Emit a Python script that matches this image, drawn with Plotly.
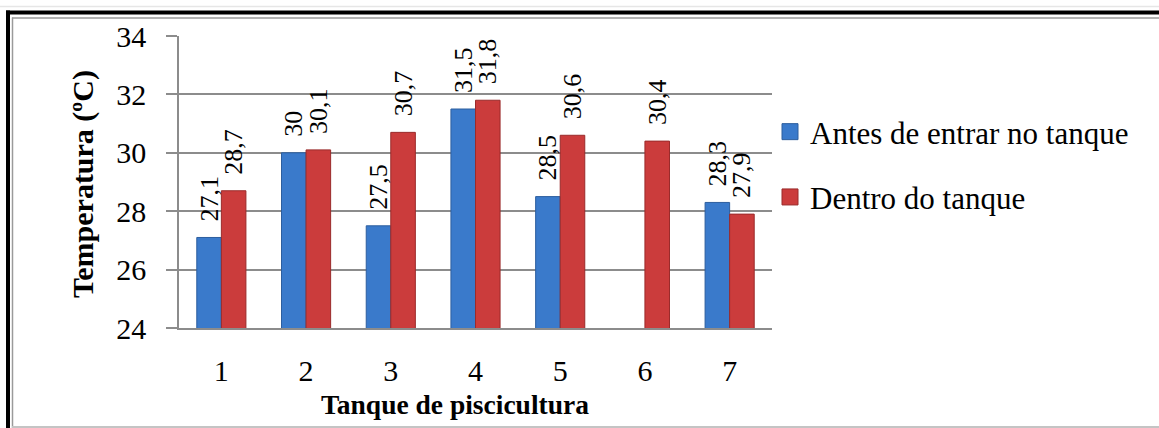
import plotly.graph_objects as go

# Water temperature per fish-farming tank
tanques = ["1", "2", "3", "4", "5", "6", "7"]
antes = [27.1, 30.0, 27.5, 31.5, 28.5, None, 28.3]
dentro = [28.7, 30.1, 30.7, 31.8, 30.6, 30.4, 27.9]

serie_antes = "Antes de entrar no tanque"
serie_dentro = "Dentro do tanque"

AZUL, AZUL_ESC = "#3A7ACB", "#2D5E9E"
VERM, VERM_ESC = "#CB3C3C", "#9A2B2B"

W, H = 1159, 428
L, R, T, B = 179, 772, 36, 328  # plot area edges in pixels


def px(x):
    return (x - L) / (R - L)


def py(y):
    return (B - y) / (B - T)


def rotulo(v):
    if v is None:
        return ""
    s = f"{v:.1f}".replace(".", ",")
    s = s[:-2] if s.endswith(",0") else s
    # two non-breaking spaces lift the rotated label off the bar top
    return "\u00a0\u00a0" + s


SERIF = "Liberation Serif"

fig = go.Figure()
for nome, vals, cor, borda in [(serie_antes, antes, AZUL, AZUL_ESC),
                               (serie_dentro, dentro, VERM, VERM_ESC)]:
    fig.add_trace(go.Bar(
        x=tanques, y=vals, name=nome, showlegend=False,
        marker=dict(color=cor, line=dict(color=borda, width=1)),
        text=[rotulo(v) for v in vals], textposition="outside", textangle=-90,
        textfont=dict(family=SERIF, size=26, color="black"),
        cliponaxis=False, constraintext="none",
    ))

# legend entries with larger square keys
for i, (nome, cor, borda) in enumerate([(serie_antes, AZUL, AZUL_ESC),
                                        (serie_dentro, VERM, VERM_ESC)]):
    fig.add_trace(go.Scatter(
        x=[None], y=[None], mode="markers", name=nome, legendgroup=str(i),
        marker=dict(symbol="square", size=16, color=cor,
                    line=dict(color=borda, width=1)),
    ))

fig.update_layout(
    width=W, height=H,
    margin=dict(l=L, r=W - R, t=T, b=H - B),
    paper_bgcolor="white", plot_bgcolor="white",
    barmode="group", bargap=0.42, bargroupgap=0,
    font=dict(family=SERIF, color="black"),
    showlegend=True,
    legend=dict(
        x=px(770), y=py(105), xanchor="left", yanchor="top",
        font=dict(family=SERIF, size=31, color="black"),
        tracegroupgap=22, bgcolor="rgba(0,0,0,0)", itemsizing="trace",
    ),
    xaxis=dict(
        type="category", showgrid=False, showline=True,
        linecolor="#8c8c8c", linewidth=1.5, ticks="",
        tickfont=dict(family=SERIF, size=30, color="black"),
        ticklabelstandoff=15,
    ),
    yaxis=dict(
        range=[24, 34], dtick=2, showgrid=True, gridcolor="#8c8c8c",
        gridwidth=1.5, showline=True, linecolor="#8c8c8c", linewidth=1.5,
        ticks="outside", ticklen=11, tickcolor="#8c8c8c", tickwidth=1.5,
        tickfont=dict(family=SERIF, size=30, color="black"),
        ticklabelstandoff=14, zeroline=False,
    ),
    annotations=[
        dict(text="<b>Temperatura (ºC)</b>", textangle=-90,
             x=px(83), y=py(184), xref="paper", yref="paper",
             xanchor="center", yanchor="middle",
             showarrow=False, font=dict(family=SERIF, size=30, color="black")),
        dict(text="<b>Tanque de piscicultura</b>",
             x=px(455), y=py(404), xref="paper", yref="paper",
             xanchor="center", yanchor="middle",
             showarrow=False, font=dict(family=SERIF, size=27.5, color="black")),
    ],
    shapes=[
        # outer page rule
        dict(type="line", xref="paper", yref="paper", x0=px(0), x1=px(W),
             y0=py(6.5), y1=py(6.5), line=dict(color="#e6e6e6", width=1.5)),
        # thick black frame
        dict(type="line", xref="paper", yref="paper", x0=px(6), x1=px(W),
             y0=py(12.5), y1=py(12.5), line=dict(color="black", width=4)),
        dict(type="line", xref="paper", yref="paper", x0=px(8), x1=px(8),
             y0=py(10.5), y1=py(H), line=dict(color="black", width=4)),
        # thin grey inner frame
        dict(type="line", xref="paper", yref="paper", x0=px(12), x1=px(W),
             y0=py(18), y1=py(18), line=dict(color="#9a9a9a", width=1.5)),
        dict(type="line", xref="paper", yref="paper", x0=px(12.5), x1=px(12.5),
             y0=py(17.5), y1=py(H), line=dict(color="#9a9a9a", width=1.5)),
        dict(type="line", xref="paper", yref="paper", x0=px(12), x1=px(W),
             y0=py(427), y1=py(427), line=dict(color="#c4c4c4", width=2)),
    ],
)

fig.write_html("out.html")
